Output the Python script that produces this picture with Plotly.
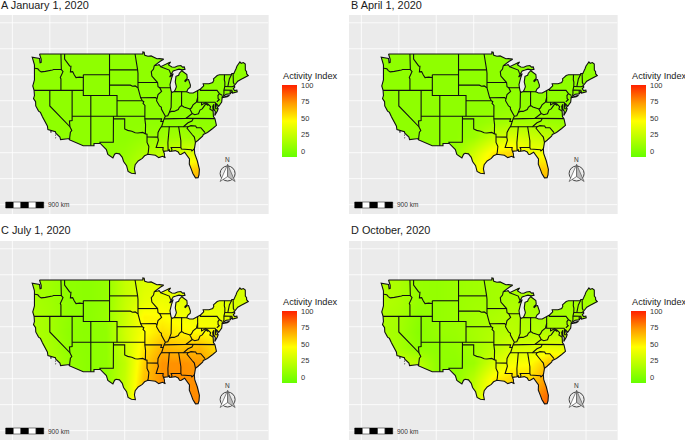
import numpy as np
import plotly.graph_objects as go

# ---------- data (lon / lat) ----------
PANEL_TITLES = ["A January 1, 2020", "B April 1, 2020", "C July 1, 2020", "D October, 2020"]
LEGEND_TITLE = "Activity Index"
LEGEND_TICKS = [0, 25, 50, 75, 100]
SCALE_LABEL = "900 km"
NORTH_LABEL = "N"
GRID_LONS = [-130, -120, -110, -100, -90, -80, -70]
GRID_LATS = [20, 25, 30, 35, 40, 45, 50, 55]

FIELD_LONS = [-125, -120, -115, -110, -105, -100, -95, -90, -85, -80, -75, -70, -65]
FIELD_LATS = [24, 27, 30, 33, 36, 39, 42, 45, 48, 51]

JANUARY = [
    [5, 5, 5, 5, 5, 15, 25, 35, 65, 70, 50, 5, 5],
    [5, 5, 5, 5, 5, 12, 22, 28, 50, 62, 30, 5, 5],
    [5, 5, 5, 5, 5, 8, 16, 22, 30, 35, 15, 5, 5],
    [5, 5, 5, 5, 5, 5, 8, 10, 12, 10, 8, 5, 5],
    [5, 5, 5, 5, 5, 5, 5, 5, 5, 5, 5, 5, 5],
    [5, 5, 5, 5, 5, 5, 5, 5, 5, 5, 5, 5, 5],
    [5, 5, 5, 5, 5, 5, 5, 5, 5, 5, 5, 5, 5],
    [5, 5, 5, 5, 5, 5, 5, 5, 5, 5, 5, 5, 5],
    [5, 5, 5, 5, 5, 5, 5, 5, 5, 5, 5, 5, 5],
    [5, 5, 5, 5, 5, 5, 5, 5, 5, 5, 5, 5, 5],
]
APRIL = [
    [5, 5, 5, 5, 10, 38, 64, 64, 62, 64, 40, 5, 5],
    [5, 5, 5, 5, 10, 42, 60, 60, 58, 60, 30, 5, 5],
    [5, 5, 5, 5, 8, 28, 50, 56, 42, 42, 20, 5, 5],
    [5, 5, 5, 5, 5, 10, 24, 32, 27, 22, 15, 5, 5],
    [5, 5, 5, 5, 5, 6, 10, 13, 12, 10, 8, 5, 5],
    [5, 5, 5, 5, 5, 5, 5, 6, 6, 6, 5, 5, 5],
    [5, 5, 5, 5, 5, 5, 5, 5, 5, 5, 5, 5, 5],
    [5, 5, 5, 5, 5, 5, 5, 5, 5, 5, 5, 5, 5],
    [5, 5, 5, 5, 5, 5, 5, 5, 5, 5, 5, 5, 5],
    [5, 5, 5, 5, 5, 5, 5, 5, 5, 5, 5, 5, 5],
]
JULY = [
    [14, 16, 10, 4, 5, 25, 68, 76, 76, 78, 60, 30, 30],
    [16, 16, 10, 4, 5, 25, 68, 76, 76, 76, 60, 30, 30],
    [18, 18, 10, 4, 6, 24, 62, 75, 75, 75, 60, 30, 30],
    [18, 18, 8, 4, 6, 22, 58, 74, 75, 72, 60, 30, 30],
    [18, 14, 6, 4, 6, 26, 52, 66, 62, 65, 52, 30, 30],
    [16, 12, 5, 4, 6, 28, 44, 54, 48, 46, 44, 32, 30],
    [16, 12, 6, 4, 8, 26, 48, 46, 42, 40, 38, 32, 30],
    [14, 11, 5, 4, 7, 24, 36, 40, 36, 36, 36, 30, 30],
    [14, 11, 5, 4, 7, 24, 33, 36, 34, 34, 34, 30, 30],
    [14, 11, 5, 4, 7, 24, 33, 36, 34, 34, 34, 30, 30],
]
OCTOBER = [
    [30, 30, 30, 5, 8, 25, 52, 60, 72, 88, 60, 20, 12],
    [30, 30, 30, 5, 6, 25, 52, 58, 70, 84, 60, 20, 12],
    [28, 28, 22, 6, 5, 20, 48, 56, 55, 75, 55, 20, 12],
    [22, 24, 20, 6, 5, 10, 30, 42, 45, 62, 55, 20, 12],
    [16, 13, 5, 5, 7, 12, 20, 30, 32, 38, 36, 18, 12],
    [15, 12, 3, 8, 9, 13, 17, 20, 18, 18, 20, 15, 12],
    [16, 13, 5, 7, 9, 12, 15, 18, 15, 13, 13, 13, 12],
    [18, 15, 8, 7, 9, 11, 12, 15, 15, 12, 12, 12, 12],
    [18, 15, 8, 7, 9, 11, 12, 13, 15, 12, 12, 12, 12],
    [18, 15, 8, 7, 9, 11, 12, 13, 15, 12, 12, 12, 12],
]
PANEL_FIELDS = [JANUARY, APRIL, JULY, OCTOBER]

# Outline of the lower 48, clockwise from the Canadian border at Puget Sound
US_OUTLINE = [
    (-122.75,49),(-95.15,49),(-95.15,49.38),(-94.8,49.32),(-94.64,48.74),(-93.8,48.55),(-92.95,48.62),(-92,48.3),
    (-91.4,48.07),(-90.75,48.1),(-89.6,48),(-90.5,47.6),(-91.3,47.2),(-92.1,46.75),(-91.2,46.87),(-90.8,46.95),
    (-90.4,46.56),(-89.6,46.83),(-88.9,47.1),(-88.2,47.45),(-87.75,47.47),(-88.3,46.9),(-87.4,46.5),(-86.6,46.45),
    (-85.9,46.68),(-85,46.77),(-84.55,46.46),(-84.1,46.5),(-83.9,46.05),(-84.7,45.95),(-85.5,46.08),(-86.3,45.9),
    (-86.7,45.75),(-87.05,45.75),(-87.6,45.1),(-88,44.55),(-87.4,44.9),(-87.05,45.25),(-87.5,44.3),(-87.9,43.1),
    (-87.8,42.5),(-87.6,41.85),(-87.3,41.62),(-86.8,41.76),(-86.5,42.1),(-86.2,42.7),(-86.5,43.6),(-86.3,44.7),
    (-85.6,44.9),(-85.4,45.3),(-84.75,45.78),(-84.1,45.5),(-83.4,45.05),(-83.3,44.3),(-83.9,43.9),(-83.9,43.65),
    (-83.3,44.05),(-82.95,44.07),(-82.45,43),(-82.5,42.6),(-83.1,42.25),(-83.45,41.72),(-82.7,41.5),(-81.7,41.5),
    (-80.5,41.98),(-79.76,42.27),(-78.9,42.85),(-79.05,43.27),(-77.5,43.27),(-76.5,43.5),(-76.2,43.95),(-76.3,44.2),
    (-75.3,44.85),(-74.7,45),(-71.5,45.01),(-71.4,45.25),(-70.85,45.25),(-70.4,45.8),(-70.25,46.2),(-70,46.7),
    (-69.23,47.46),(-68.9,47.2),(-68.3,47.35),(-67.8,47.07),(-67.78,45.9),(-67.45,45.6),(-67.45,45.2),(-67,44.85),
    (-68.2,44.3),(-69,44.1),(-69.8,43.75),(-70.6,43.1),(-70.8,42.85),(-70.6,42.65),(-71,42.3),(-70.65,41.95),
    (-70.05,42.05),(-69.95,41.7),(-70.65,41.55),(-71.2,41.48),(-71.4,41.7),(-71.85,41.32),(-72.9,41.25),(-73.65,40.98),
    (-74,40.7),(-74,40.45),(-74.1,39.75),(-74.9,38.93),(-75.55,39.5),(-75.4,39),(-75.05,38.45),(-75.25,38),
    (-75.95,37.15),(-75.8,37.9),(-76.2,38.4),(-76.2,39.3),(-76.5,38.9),(-76.4,38.2),(-76.3,37.5),(-76.3,36.95),
    (-75.9,36.55),(-75.5,35.25),(-76.5,34.65),(-77.9,33.9),(-79,33.5),(-79.2,33.2),(-80.4,32.4),(-81.1,32),
    (-81.4,30.7),(-81.3,29.8),(-80.6,28.4),(-80.05,26.8),(-80.15,25.75),(-80.4,25.2),(-81.1,25.15),(-81.8,26),
    (-82.2,26.8),(-82.75,27.8),(-82.7,28.8),(-83.4,29.5),(-84,30.1),(-85,29.65),(-85.35,29.7),(-85.7,30.15),
    (-86.5,30.4),(-87.5,30.28),(-88,30.25),(-88.1,30.65),(-88.4,30.37),(-89.3,30.3),(-89.6,30.18),(-89.4,29.8),
    (-89.4,29.3),(-89.15,29.05),(-89.9,29.3),(-90.9,29.05),(-91.8,29.5),(-92.3,29.55),(-93.8,29.7),(-94.7,29.4),
    (-95.3,28.9),(-96.4,28.4),(-97.2,27.7),(-97.4,26.9),(-97.15,25.96),(-98.2,26.05),(-99.1,26.4),(-99.5,27.5),
    (-100.3,28.3),(-100.65,29.1),(-101.4,29.77),(-102.3,29.88),(-102.7,29.7),(-103.15,28.98),(-104,29.3),(-104.5,29.65),
    (-104.9,30.6),(-106.53,31.78),(-108.2,31.78),(-108.2,31.33),(-111.07,31.33),(-114.8,32.5),(-114.72,32.72),(-117.12,32.53),
    (-117.3,33),(-118.4,33.75),(-118.5,34.03),(-119.2,34.15),(-120.5,34.45),(-120.65,35.15),(-121.9,36.6),(-122,36.95),
    (-122.5,37.75),(-123,38),(-123.75,39),(-123.8,39.8),(-124.35,40.4),(-124.1,41),(-124.2,42),(-124.55,42.84),
    (-124.1,44),(-123.95,46.2),(-124.1,46.9),(-124.7,48.38),(-123.1,48.15),(-122.75,48.15),(-122.6,47.3),(-122.3,47.4),
    (-122.3,47.95),(-122.5,48.5),
]
# Shared state borders and islands, each a separate line
STATE_BORDERS = [
    [(-124,46.25),(-123.2,46.15),(-122.8,45.8),(-122.3,45.55),(-121.2,45.65),(-120.5,45.7),(-119.3,45.93),(-119,46),(-116.92,46)],
    [(-117.03,49),(-117.04,46.4),(-116.92,46),(-116.47,45.6),(-117.2,44.45),(-117.03,44.2),(-117.03,42)],
    [(-124.2,42),(-111.05,42)],
    [(-120,42),(-120,39),(-114.63,35),(-114.13,34.27),(-114.5,33.95),(-114.72,32.72)],
    [(-114.04,42),(-114.04,36.2),(-114.75,36.1),(-114.63,35)],
    [(-116.05,49),(-116.05,48),(-114.7,46.7),(-114.35,46.65),(-114.5,45.55),(-113.9,45.6),(-113.45,44.95),(-113,44.45),(-112,44.55),(-111.5,44.55),(-111.05,44.47)],
    [(-111.05,45),(-111.05,41),(-104.05,41),(-102.05,41),(-102.05,37)],
    [(-111.05,45),(-104.05,45)],
    [(-109.05,41),(-109.05,31.33)],
    [(-114.04,37),(-94.62,37)],
    [(-102.05,40),(-95.3,40)],
    [(-103,37),(-103.04,32),(-106.62,32),(-106.53,31.78)],
    [(-103,36.5),(-100,36.5),(-100,34.56),(-99.2,34.3),(-98.1,34.13),(-97.2,33.85),(-96.5,33.8),(-95.2,33.9),(-94.48,33.64)],
    [(-104.05,49),(-104.05,41)],
    [(-104.05,45.94),(-96.56,45.94)],
    [(-104.05,43),(-98.5,43),(-97.9,42.8),(-97.2,42.85),(-96.45,42.5),(-96.1,41.6),(-95.85,40.75),(-95.75,40.6),(-95.3,40),(-94.9,39.8),(-95.1,39.5),(-94.6,39.1),(-94.62,36.5),(-94.43,35.4),(-94.48,33.64),(-94.04,33.55),(-94.04,31.99),(-93.55,31.2),(-93.7,30.1),(-93.85,29.7)],
    [(-97.23,49),(-96.85,47.6),(-96.56,46),(-96.45,45.3),(-96.45,42.5)],
    [(-94.04,33.02),(-91.17,33)],
    [(-96.45,43.5),(-91.22,43.5)],
    [(-95.77,40.58),(-91.73,40.6),(-91.42,40.38)],
    [(-92.1,46.75),(-92.3,46.1),(-92.9,45.6),(-92.75,44.75),(-91.22,43.5),(-91.1,42.7),(-90.64,42.5),(-90.15,41.8),(-91.1,41.2),(-91.42,40.38),(-91.5,40),(-90.7,39),(-90.2,38.75),(-90.2,38.4),(-89.5,37.3),(-89.15,37),(-89.5,36.5),(-89.7,36),(-90.1,35.1),(-90.6,34.6),(-91.1,33.9),(-91.17,33),(-91,32.4),(-91.6,31),(-89.73,31),(-89.8,30.6),(-89.6,30.18)],
    [(-90.64,42.5),(-87.8,42.5)],
    [(-90.4,46.56),(-89.1,46.13),(-88.1,45.9),(-87.8,45.35),(-87.6,45.1)],
    [(-87.53,41.7),(-87.53,39.35),(-87.6,38.7),(-88.05,37.8)],
    [(-89.15,37),(-88.5,37.1),(-88.05,37.8),(-87.5,37.95),(-86.8,37.95),(-86.3,38.15),(-85.7,38.3),(-85.4,38.73),(-84.82,39.1),(-84.2,38.8),(-83.7,38.65),(-82.6,38.42),(-82.2,38.6),(-81.75,39.2),(-80.85,39.7),(-80.52,40.64)],
    [(-86.8,41.76),(-84.8,41.76),(-83.45,41.72)],
    [(-84.8,41.76),(-84.82,39.1)],
    [(-80.52,41.98),(-80.52,39.72),(-75.79,39.72)],
    [(-79.76,42.27),(-79.76,42),(-75.35,42),(-74.7,41.36),(-73.9,41)],
    [(-74.7,41.36),(-75.1,41),(-75.05,40.4),(-74.75,40.2),(-75.4,39.8)],
    [(-73.65,40.98),(-73.5,41.3),(-73.5,42.05),(-73.27,42.75),(-73.25,43.6),(-73.4,44),(-73.35,45.01)],
    [(-73.5,42.05),(-71.38,42.02),(-71.2,41.48)],
    [(-71.8,42.02),(-71.85,41.32)],
    [(-73.27,42.75),(-71.3,42.7),(-70.8,42.85)],
    [(-72.46,42.73),(-72.3,43.6),(-72.05,44.2),(-71.5,45.01)],
    [(-70.7,43.1),(-70.98,43.5),(-71.05,45.3)],
    [(-82.6,38.42),(-81.97,37.54),(-83.67,36.6),(-88.05,36.5),(-89.5,36.5)],
    [(-83.67,36.6),(-81.7,36.59),(-75.9,36.55)],
    [(-81.97,37.54),(-81.3,37.3),(-80.3,37.5),(-79.9,38.2),(-79.3,38.42),(-78.87,38.8),(-78.35,39.4),(-77.83,39.13),(-77.72,39.32)],
    [(-79.48,39.72),(-79.48,39.2),(-78.4,39.62),(-77.72,39.32),(-77.05,38.85),(-77.25,38.4),(-76.4,38)],
    [(-75.79,39.72),(-75.7,38.46),(-75.05,38.45)],
    [(-81.7,36.59),(-82.05,36.1),(-83.1,35.75),(-84.32,35)],
    [(-90.1,35),(-83.1,35)],
    [(-83.1,35),(-82.3,35.2),(-81.05,35.15),(-80.8,34.82),(-79.67,34.8),(-78.55,33.85)],
    [(-83.1,35),(-83.35,34.7),(-82,33.5),(-81.4,33),(-81.1,32)],
    [(-85.6,35),(-85.18,32.87),(-85,32.3),(-85,31),(-84.86,30.7),(-82.2,30.57),(-82.05,30.36),(-81.45,30.7)],
    [(-85,31),(-87.6,31),(-87.4,30.65),(-87.5,30.28)],
    [(-88.2,35),(-88.1,34.9),(-88.47,31.9),(-88.4,30.37)],
    [(-94.62,36.5),(-90.15,36.5),(-90.35,36),(-89.7,36)],
    [(-74,40.6),(-72,41.05),(-72.6,40.75),(-74,40.58)],
    [(-119.9,34),(-119.5,34)],[(-118.6,33.4),(-118.4,33.35)],[(-118.5,32.9),(-118.35,32.82)],
]

# ---------- styles and page geometry (pixels) ----------
W, H = 685, 440
PANEL_W, PANEL_H = 268.5, 199
ORIGINS = [(0, 15), (349, 15), (0, 241), (349, 241)]
X_RANGE = (-133.3, -61.6)
Y_RANGE = (18.2, 56.5)
BG = "#EBEBEB"
TEXT = "#1a1a1a"
FONT = "Liberation Sans"
COLORSCALE = [[0, "#66FF00"], [0.25, "#B5FF00"], [0.5, "#FFFF00"], [0.75, "#FF9A00"], [1, "#FF2000"]]
C_MIN, C_MAX = -9, 100
BAR_TOP, BAR_LEN, BAR_W = 70, 72, 14.5


def px(x):
    return x / W


def py(y):
    return 1 - y / H


def inside_us(xs, ys):
    poly = np.array(US_OUTLINE)
    px_, py_ = poly[:, 0], poly[:, 1]
    qx_, qy_ = np.roll(px_, -1), np.roll(py_, -1)
    res = np.zeros(len(xs), bool)
    for a, b, c, d in zip(px_, py_, qx_, qy_):
        if b == d:
            continue
        cross = ((b > ys) != (d > ys)) & (xs < a + (ys - b) * (c - a) / (d - b))
        res ^= cross
    return res


def grid_lines():
    gx, gy = [], []
    for lon in GRID_LONS:
        t = np.arange(Y_RANGE[0], Y_RANGE[1] + 0.05, 0.05)
        m = inside_us(np.full_like(t, lon, dtype=float), t)
        gx += [lon if not k else None for k in m] + [None]
        gy += [float(v) if not k else None for v, k in zip(t, m)] + [None]
    for lat in GRID_LATS:
        t = np.arange(X_RANGE[0], X_RANGE[1] + 0.05, 0.05)
        m = inside_us(t, np.full_like(t, lat, dtype=float))
        gx += [float(v) if not k else None for v, k in zip(t, m)] + [None]
        gy += [lat if not k else None for k in m] + [None]
    return gx, gy


def outline_xy():
    xs, ys = [], []
    for line in [US_OUTLINE + US_OUTLINE[:1]] + STATE_BORDERS:
        xs += [p[0] for p in line] + [None]
        ys += [p[1] for p in line] + [None]
    return xs, ys


GX, GY = grid_lines()
OX, OY = outline_xy()
# panel rectangle (anticlockwise) joined by a seam to the clockwise outline, so the outline is a hole
LOOP = US_OUTLINE + US_OUTLINE[:1]
MX = [X_RANGE[0]] + [p[0] for p in LOOP] + [X_RANGE[0], X_RANGE[0], X_RANGE[1], X_RANGE[1], X_RANGE[0], X_RANGE[0]]
MY = [49] + [p[1] for p in LOOP] + [49, Y_RANGE[0], Y_RANGE[0], Y_RANGE[1], Y_RANGE[1], 49]

fig = go.Figure()
layout = dict(width=W, height=H, margin=dict(l=0, r=0, t=0, b=0), paper_bgcolor="white",
              plot_bgcolor=BG, showlegend=False, font=dict(family=FONT, color=TEXT))
annotations, shapes = [], []


def text(x, y, s, size, color=TEXT, anchor="left"):
    annotations.append(dict(xref="paper", yref="paper", x=px(x), y=py(y), text=s, showarrow=False,
                            xanchor=anchor, yanchor="middle", align="left", borderpad=0,
                            font=dict(size=size, color=color, family=FONT)))


def rect(x0, y0, x1, y1, fill, line="rgba(0,0,0,0)"):
    shapes.append(dict(type="rect", xref="paper", yref="paper", x0=px(x0), x1=px(x1), y0=py(y0), y1=py(y1),
                       fillcolor=fill, line=dict(color=line, width=0.5), layer="above"))


def poly_path(pts, fill, line="#555555", width=0.7):
    d = "M" + " L".join(f"{px(a):.5f},{py(b):.5f}" for a, b in pts) + " Z"
    shapes.append(dict(type="path", xref="paper", yref="paper", path=d, fillcolor=fill,
                       line=dict(color=line, width=width), layer="above"))


for i, (ox, oy) in enumerate(ORIGINS):
    s = "" if i == 0 else str(i + 1)
    layout[f"xaxis{s}"] = dict(domain=[px(ox), px(ox + PANEL_W)], range=list(X_RANGE), anchor=f"y{s}",
                               showgrid=False, zeroline=False, showticklabels=False, ticks="", fixedrange=True)
    layout[f"yaxis{s}"] = dict(domain=[py(oy + PANEL_H), py(oy)], range=list(Y_RANGE), anchor=f"x{s}",
                               showgrid=False, zeroline=False, showticklabels=False, ticks="", fixedrange=True)
    xa, ya = f"x{s}", f"y{s}"
    fig.add_trace(go.Heatmap(
        x=FIELD_LONS, y=FIELD_LATS, z=PANEL_FIELDS[i], zmin=C_MIN, zmax=C_MAX, zsmooth="best",
        colorscale=COLORSCALE, xaxis=xa, yaxis=ya, hoverinfo="skip",
        colorbar=dict(x=px(ox + 282), xanchor="left", y=py(oy + BAR_TOP), yanchor="top", lenmode="pixels", len=BAR_LEN,
                      thicknessmode="pixels", thickness=BAR_W, xpad=0, ypad=0, outlinewidth=0,
                      tickmode="array", tickvals=LEGEND_TICKS, ticks="outside", ticklen=3,
                      tickcolor="rgba(0,0,0,0)", tickwidth=0.6,
                      tickfont=dict(size=7.5, color="#333333", family=FONT))))
    fig.add_trace(go.Scatter(x=MX, y=MY, mode="none", fill="toself", fillcolor=BG, xaxis=xa, yaxis=ya,
                             hoverinfo="skip"))
    fig.add_trace(go.Scatter(x=GX, y=GY, mode="lines", line=dict(color="white", width=0.8), xaxis=xa, yaxis=ya,
                             hoverinfo="skip", connectgaps=False))
    fig.add_trace(go.Scatter(x=OX, y=OY, mode="lines", line=dict(color="#111111", width=1.1), xaxis=xa, yaxis=ya,
                             hoverinfo="skip", connectgaps=False))

    text(ox + (1 if ox else 0), oy - 10.5, PANEL_TITLES[i], 10.9)
    text(ox + 282, oy + 61, LEGEND_TITLE, 9.2)
    # white inner ticks of the legend bar
    for v in LEGEND_TICKS:
        ty = oy + BAR_TOP + BAR_LEN * (C_MAX - v) / (C_MAX - C_MIN)
        for a, b in ((ox + 282, ox + 285), (ox + 282 + BAR_W - 3, ox + 282 + BAR_W)):
            shapes.append(dict(type="line", xref="paper", yref="paper", x0=px(a), x1=px(b), y0=py(ty), y1=py(ty),
                               line=dict(color="white", width=0.5), layer="above"))
    # scale bar
    bx, by = ox + 5.7, oy + 187
    for k in range(5):
        rect(bx + k * 7.6, by, bx + (k + 1) * 7.6, by + 6, "black" if k % 2 == 0 else "white", "black")
    text(bx + 41.3, by + 3, SCALE_LABEL, 6.5, "#333333")
    # north arrow
    cx, cy = ox + 227.6, oy + 158.5
    shapes.append(dict(type="circle", xref="paper", yref="paper", x0=px(cx - 7.5), x1=px(cx + 7.5), y0=py(cy + 7.5),
                       y1=py(cy - 7.5), line=dict(color="#444444", width=1), fillcolor="rgba(0,0,0,0)", layer="above"))
    poly_path([(cx, cy - 9), (cx - 7.5, cy + 8), (cx, cy + 3)], "white")
    poly_path([(cx, cy - 9), (cx + 7.5, cy + 8), (cx, cy + 3)], "#BBBBBB")
    text(cx, cy - 14, NORTH_LABEL, 6.5, "#333333", "center")

layout["annotations"] = annotations
layout["shapes"] = shapes
fig.update_layout(**layout)
fig.write_html("out.html", config={"displayModeBar": False},
               post_script="document.body.style.margin='0';document.body.style.overflow='hidden';window.dispatchEvent(new Event('resize'));")
